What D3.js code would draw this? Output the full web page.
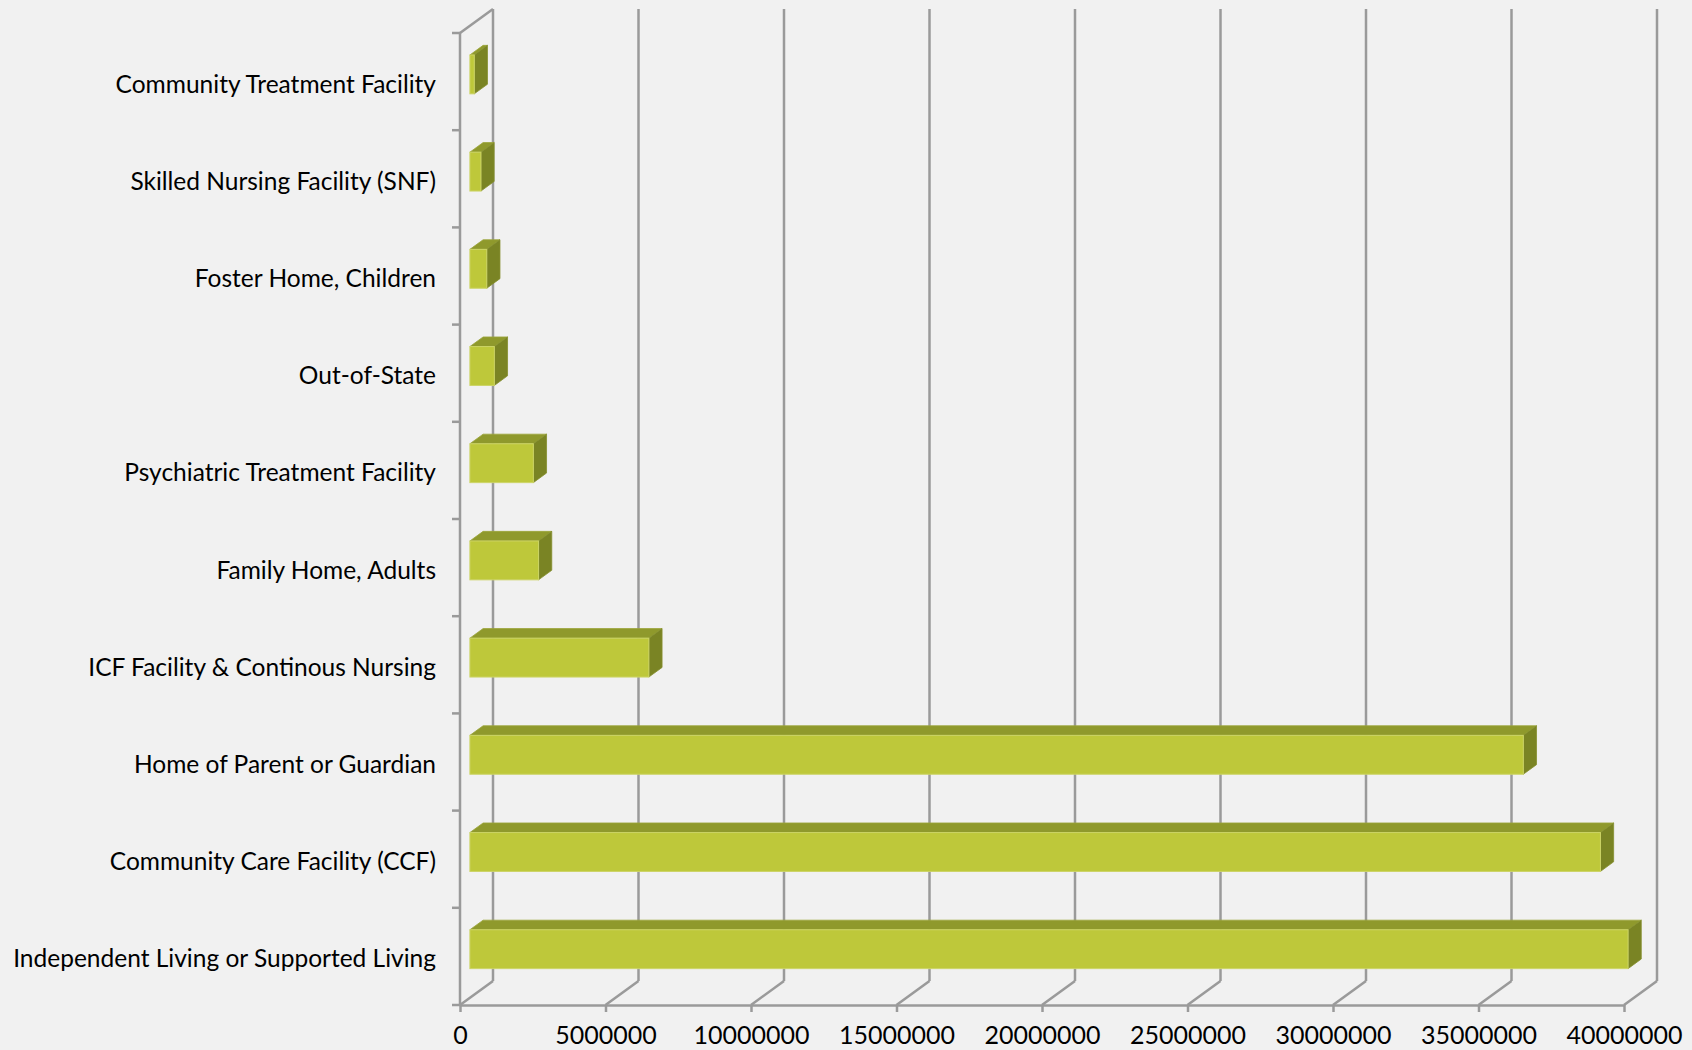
<!DOCTYPE html>
<html>
<head>
<meta charset="utf-8">
<script src="https://cdn.jsdelivr.net/npm/d3@7"></script>
<style>
  html, body { margin: 0; padding: 0; background: #f1f1f1; }
  svg { display: block; }
  text { font-family: Lato, "Open Sans", sans-serif; fill: #000; }
</style>
</head>
<body>
<svg id="chart" width="1692" height="1050"></svg>
<script>
const categories = [
  "Community Treatment Facility",
  "Skilled Nursing Facility (SNF)",
  "Foster Home, Children",
  "Out-of-State",
  "Psychiatric Treatment Facility",
  "Family Home, Adults",
  "ICF Facility & Continous Nursing",
  "Home of Parent or Guardian",
  "Community Care Facility (CCF)",
  "Independent Living or Supported Living"
];
const values = [150000, 380000, 580000, 840000, 2180000, 2360000, 6150000, 36200000, 38850000, 39800000];
const tickValues = [0, 5000000, 10000000, 15000000, 20000000, 25000000, 30000000, 35000000, 40000000];

(function () {
const svg = d3.select("#chart");
const W = 1692, H = 1050;
svg.append("rect").attr("width", W).attr("height", H).attr("fill", "#f1f1f1");

const pLeft = 460, pRight = 1624, pTop = 33, pBottom = 1005;
const DX = 33, DY = -24;
const x = d3.scaleLinear().domain([0, 40000000]).range([pLeft, pRight]);
const y = d3.scaleBand().domain(categories).range([pTop, pBottom]).paddingInner(0).paddingOuter(0);

const gridColor = "#9a9a9a";
const gw = 2.5;
const P = (px, py, d) => [px + d * DX, py + d * DY];

const g = svg.append("g");
tickValues.forEach(v => {
  const [bx, by] = P(x(v), pBottom, 1);
  const [tx, ty] = P(x(v), pTop, 1);
  g.append("line").attr("x1", tx).attr("y1", ty).attr("x2", bx).attr("y2", by)
    .attr("stroke", gridColor).attr("stroke-width", gw);
  g.append("line").attr("x1", bx).attr("y1", by).attr("x2", x(v)).attr("y2", pBottom)
    .attr("stroke", gridColor).attr("stroke-width", gw);
});

{
  const [tx, ty] = P(pLeft, pTop, 1);
  g.append("line").attr("x1", pLeft).attr("y1", pTop).attr("x2", tx).attr("y2", ty)
    .attr("stroke", gridColor).attr("stroke-width", gw);
  g.append("line").attr("x1", pLeft).attr("y1", pTop).attr("x2", pLeft).attr("y2", pBottom)
    .attr("stroke", gridColor).attr("stroke-width", gw);
}

const bounds = categories.map(c => y(c)).concat([pBottom]);
bounds.forEach(b => {
  g.append("line").attr("x1", pLeft - 8).attr("y1", b).attr("x2", pLeft).attr("y2", b)
    .attr("stroke", gridColor).attr("stroke-width", gw);
});

const xAxis = d3.axisBottom(x).tickValues(tickValues).tickFormat(d3.format("d"))
  .tickSizeInner(7).tickSizeOuter(0).tickPadding(14);
const xa = svg.append("g").attr("transform", `translate(0,${pBottom})`).call(xAxis);
xa.select(".domain").attr("stroke", gridColor).attr("stroke-width", gw);
xa.selectAll(".tick line").attr("stroke", gridColor).attr("stroke-width", gw);
xa.selectAll(".tick text").attr("font-size", 25).attr("font-family", "Lato, sans-serif").attr("fill", "#000");

const yAxis = d3.axisLeft(y).tickSize(0).tickPadding(24);
const ya = svg.append("g").attr("transform", `translate(${pLeft},0)`).call(yAxis);
ya.select(".domain").remove();
ya.selectAll(".tick text").attr("font-size", 24.5).attr("font-family", "Lato, sans-serif").attr("fill", "#000").attr("dy", "0.45em");

const d0 = 0.3, d1 = 0.7;
const barFrac = 0.4;
const bars = svg.append("g");
categories.forEach((c, i) => {
  const v = values[i];
  const cy = y(c) + y.bandwidth() / 2;
  const h = y.bandwidth() * barFrac;
  const yt = cy - h / 2, yb = cy + h / 2;
  const x0 = x(0), x1 = x(v);
  const f = (px, py, d) => P(px, py, d).join(",");
  bars.append("polygon")
    .attr("points", [f(x0, yt, d0), f(x1, yt, d0), f(x1, yt, d1), f(x0, yt, d1)].join(" "))
    .attr("fill", "#8f992c").attr("stroke", "#9aa43a").attr("stroke-width", 0.8);
  bars.append("polygon")
    .attr("points", [f(x1, yt, d0), f(x1, yt, d1), f(x1, yb, d1), f(x1, yb, d0)].join(" "))
    .attr("fill", "#7a8424").attr("stroke", "#858f2e").attr("stroke-width", 0.8);
  const [fx, fy] = P(x0, yt, d0);
  bars.append("rect")
    .attr("x", fx).attr("y", fy).attr("width", Math.max(0, x1 - x0)).attr("height", h)
    .attr("fill", "#bec83a").attr("stroke", "#ccd466").attr("stroke-width", 1);
});
})();
</script>
</body>
</html>
